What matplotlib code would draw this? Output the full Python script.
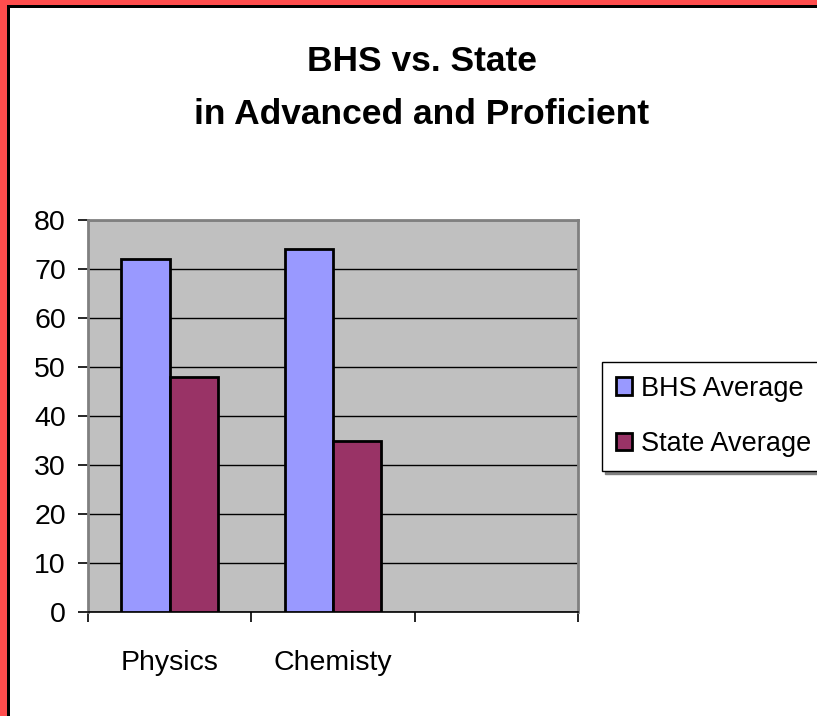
import numpy as np
import matplotlib
matplotlib.use("Agg")
import matplotlib.pyplot as plt
from matplotlib.patches import Rectangle

# ---- data ----
categories = ["Physics", "Chemisty", ""]
bhs_average = [72, 74]
state_average = [48, 35]
series_names = ["BHS Average", "State Average"]
y_ticks = [0, 10, 20, 30, 40, 50, 60, 70, 80]
title_lines = ["BHS vs. State", "in Advanced and Proficient"]

plt.rcParams['font.family'] = ['Liberation Sans', 'DejaVu Sans']

W, H = 817, 716
fig = plt.figure(figsize=(W / 100, H / 100), dpi=100)
fig.patch.set_facecolor("white")

ax = fig.add_axes([88 / W, 1 - 612 / H, (578 - 88) / W, (612 - 220) / H])
ax.set_facecolor("#C0C0C0")

x = np.arange(len(bhs_average))
bw = 0.295
b1 = ax.bar(x - bw / 2, bhs_average, bw, color="#9999FF", edgecolor="black", linewidth=2, zorder=3)
b2 = ax.bar(x + bw / 2, state_average, bw, color="#993366", edgecolor="black", linewidth=2, zorder=3)

ax.set_xlim(-0.5, len(categories) - 0.5)
ax.set_ylim(0, 80)
ax.set_yticks(y_ticks)
ax.set_yticklabels([str(v) for v in y_ticks])
ax.yaxis.grid(True, color="black", linewidth=1)
ax.set_axisbelow(True)

fs = 20.5
ax.set_xticks(np.arange(len(categories)))
ax.set_xticklabels(categories)
ax.set_xticks(np.arange(len(categories) + 1) - 0.5, minor=True)
ax.tick_params(axis="x", which="major", length=0, pad=27, labelsize=fs)
ax.tick_params(axis="x", which="minor", length=7.5, width=1.2, color="black")
ax.tick_params(axis="y", length=7, width=1.2, pad=9, labelsize=fs)

for s in ["left", "top", "right"]:
    ax.spines[s].set_color("#808080")
    ax.spines[s].set_linewidth(2)
ax.spines["bottom"].set_color("black")
ax.spines["bottom"].set_linewidth(1.2)

for line, base_y in zip(title_lines, [71, 124]):
    fig.text(422 / W, 1 - base_y / H, line, ha="center", va="baseline",
             fontsize=25.5, fontweight="bold")

leg = fig.legend([b1, b2], series_names, loc="upper left",
                 bbox_to_anchor=(602 / W, 1 - 362 / H), bbox_transform=fig.transFigure,
                 fontsize=19.5, frameon=True, fancybox=False, edgecolor="black",
                 handlelength=0.6, handleheight=0.6, handletextpad=0.35,
                 labelspacing=1.1, borderpad=0.5, borderaxespad=0,
                 shadow={"color": "#808080", "alpha": 1})
leg.get_frame().set_linewidth(1)

# figure border (red with black inner line)
red = "#FF4D4D"
fig.add_artist(Rectangle((0, 0), 7 / W, 1, transform=fig.transFigure, color=red, lw=0))
fig.add_artist(Rectangle((0, 1 - 5 / H), 1, 5 / H, transform=fig.transFigure, color=red, lw=0))
fig.add_artist(Rectangle((7 / W, 0), 2.5 / W, 1 - 5 / H, transform=fig.transFigure, color="black", lw=0))
fig.add_artist(Rectangle((7 / W, 1 - 8 / H), 1, 3 / H, transform=fig.transFigure, color="black", lw=0))

fig.savefig("out.png", dpi=100)
